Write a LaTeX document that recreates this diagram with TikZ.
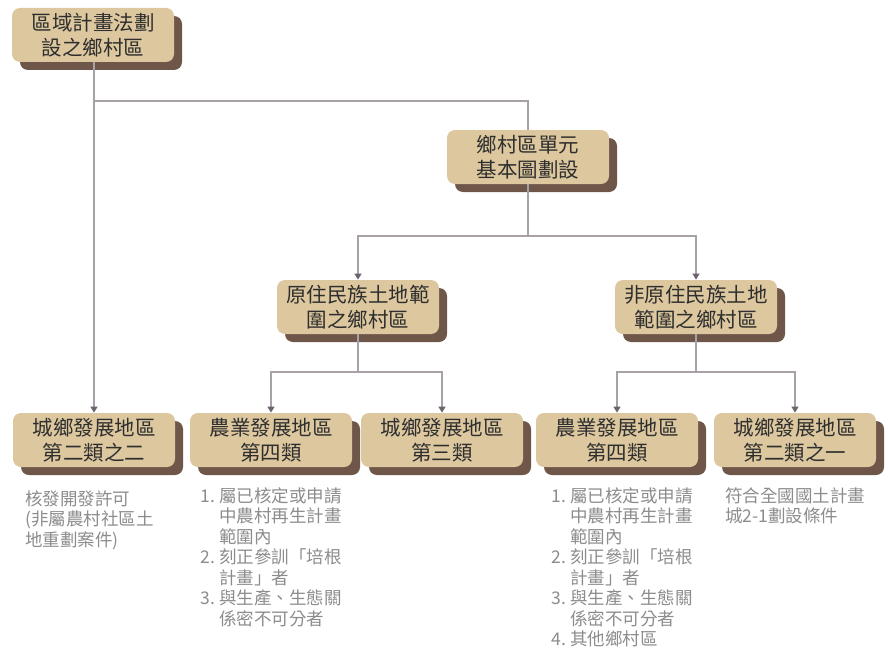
\documentclass[tikz,border=0pt]{standalone}
\usepackage{fontspec}
\usepackage{tikz}
\usetikzlibrary{shadows,arrows.meta}
\setmainfont{Noto Sans CJK TC}
\definecolor{cajafondo}{HTML}{DCC79F}
\definecolor{cajasombra}{HTML}{6E5649}
\definecolor{lineagris}{HTML}{A8A2A8}
\definecolor{puntagris}{HTML}{6C6270}
\definecolor{notagris}{HTML}{8C8C8C}
\definecolor{textocaja}{HTML}{2E2E2E}
\tikzstyle{caja}=[rounded corners=8pt,fill=cajafondo,minimum width=162pt,minimum height=54pt,inner sep=0pt,align=center,text=textocaja,font=\fontsize{20.5}{25}\selectfont,general shadow={fill=cajasombra,shadow xshift=8pt,shadow yshift=-8pt}]
\tikzstyle{nota}=[anchor=north west,inner sep=0pt,align=left,text=notagris,font=\fontsize{17.5}{20.5}\selectfont]
\tikzstyle{linea}=[draw=lineagris,line width=1.3pt]
\tikzstyle{flecha}=[linea,-{Triangle[width=7pt,length=6pt,color=puntagris]}]
\newcommand{\num}[1]{\makebox[19pt][l]{#1}}

\begin{document}
\begin{tikzpicture}[x=1pt,y=-1pt,thick]
    \useasboundingbox (0,0) rectangle (888,650);
    \node [caja] (t1) at (93,35) {區域計畫法劃\\設之鄉村區};
    \node [caja] (t2) at (528,157) {鄉村區單元\\基本圖劃設};
    \node [caja] (t3) at (358,307) {原住民族土地範\\圍之鄉村區};
    \node [caja] (t4) at (696,307) {非原住民族土地\\範圍之鄉村區};
    \node [caja] (t5) at (94,440) {城鄉發展地區\\第二類之二};
    \node [caja] (t6) at (271,440) {農業發展地區\\第四類};
    \node [caja] (t7) at (442,440) {城鄉發展地區\\第三類};
    \node [caja] (t8) at (617,440) {農業發展地區\\第四類};
    \node [caja] (t9) at (795,440) {城鄉發展地區\\第二類之一};

    \coordinate (j1) at (94,101);
    \coordinate (j2) at (528,236);
    \coordinate (j3) at (358,372);
    \coordinate (j4) at (696,372);
    \draw [flecha] (t1.south -| j1) -- (t5.north -| j1);
    \draw [linea] (j1) -| (t2.north);
    \draw [linea] (t2.south) -- (j2);
    \draw [flecha] (j2) -| (t3.north);
    \draw [flecha] (j2) -| (t4.north);
    \draw [linea] (t3.south) -- (j3);
    \draw [flecha] (j3) -| (t6.north);
    \draw [flecha] (j3) -| (t7.north);
    \draw [linea] (t4.south) -- (j4);
    \draw [flecha] (j4) -| (t8.north);
    \draw [flecha] (j4) -| (t9.north);

    \node [nota] (n1) at (25,490) {核發開發許可\\(非屬農村社區土\\地重劃案件)};
    \node [nota] (n2) at (200,487) {\num{1.}屬已核定或申請\\\num{}中農村再生計畫\\\num{}範圍內\\\num{2.}刻正參訓「培根\\\num{}計畫」者\\\num{3.}與生產、生態關\\\num{}係密不可分者};
    \node [nota] (n3) at (551,487) {\num{1.}屬已核定或申請\\\num{}中農村再生計畫\\\num{}範圍內\\\num{2.}刻正參訓「培根\\\num{}計畫」者\\\num{3.}與生產、生態關\\\num{}係密不可分者\\\num{4.}其他鄉村區};
    \node [nota] (n4) at (725,487) {符合全國國土計畫\\城2-1劃設條件};
\end{tikzpicture}
\end{document}
